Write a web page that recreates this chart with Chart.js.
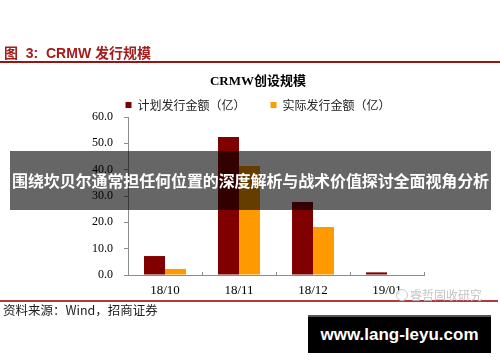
<!DOCTYPE html>
<html>
<head>
<meta charset="utf-8">
<script src="https://cdn.jsdelivr.net/npm/chart.js@4.4.1/dist/chart.umd.min.js"></script>
<style>
  body { margin: 0; background: #fff; }
  #wrap { position: relative; width: 500px; height: 362px; overflow: hidden; font-family: "Liberation Sans", "Noto Sans CJK SC", sans-serif; }
  #chartBox { position: absolute; left: 0; top: 0; width: 500px; height: 362px; }
  .abs { position: absolute; white-space: nowrap; }
  #head { left: 4px; top: 46px; font-size: 14px; line-height: 14px; font-weight: bold; color: #a51c1c; }
  #headLine { left: 0; top: 61px; width: 500px; height: 2px; background: #9a1414; }
  #srcLine { left: 0; top: 300px; width: 498px; height: 2px; background: #b03a3a; }
  #src { left: 3px; top: 303px; font-size: 12.5px; line-height: 14px; color: #222; font-family: "Noto Sans CJK SC", sans-serif; }
  #mark { left: 396px; top: 288px; font-size: 12px; line-height: 14px; color: #c4c4c4; font-family: "Noto Sans CJK SC", sans-serif; }
  #mark span { display: inline-block; width: 10px; height: 10px; border: 1px solid #c8c8c8; border-radius: 50%; background: rgba(255,255,255,0.85); vertical-align: -1px; margin-right: 2px; }
  #banner { left: 10px; top: 151px; width: 481px; height: 59px; background: rgba(0,0,0,0.6); color: #fff; font-size: 16px; line-height: 59px; font-weight: bold; text-align: center; font-family: "Noto Sans CJK SC", sans-serif; letter-spacing: -0.1px; }
  #site { left: 308px; top: 315px; width: 183px; height: 36px; background: #000; border-top: 2px solid #555; color: #fff; font-size: 17px; line-height: 36px; font-weight: bold; text-align: center; }
</style>
</head>
<body>
<div id="wrap">
  <div id="chartBox"><canvas id="crmwChart"></canvas></div>
  <div class="abs" id="head">图&nbsp; 3:&nbsp; CRMW 发行规模</div>
  <div class="abs" id="headLine"></div>
  <div class="abs" id="srcLine"></div>
  <div class="abs" id="src">资料来源：Wind，招商证券</div>
  <div class="abs" id="mark"><span></span>睿哲固收研究</div>
  <div class="abs" id="banner">围绕坎贝尔通常担任何位置的深度解析与战术价值探讨全面视角分析</div>
  <div class="abs" id="site">www.lang-leyu.com</div>
</div>
<script>
const months = ['18/10', '18/11', '18/12', '19/01'];
const plannedAmount = [7.2, 52.4, 27.7, 1.0];
const actualAmount = [2.3, 41.4, 18.2, 0];
const yTicks = [0, 10, 20, 30, 40, 50, 60];

const serif = '"Liberation Serif", "Noto Sans CJK SC", serif';

// move title and legend down to where the picture has them
const shiftHeader = {
    id: 'shiftHeader',
    afterLayout(chart) {
        if (chart.titleBlock) {
            chart.titleBlock.top += 19.8;
            chart.titleBlock.bottom += 19.8;
        }
        if (chart.legend) {
            chart.legend.top += 4;
            chart.legend.bottom += 4;
        }
    }
};

// small tick marks pointing up from the x axis, at category edges
const innerTicks = {
    id: 'innerTicks',
    afterDraw(chart) {
        const x = chart.scales.x;
        const ctx = chart.ctx;
        const step = (x.right - x.left) / months.length;
        ctx.save();
        ctx.strokeStyle = '#8c8c8c';
        ctx.lineWidth = 1;
        for (let i = 0; i <= months.length; i++) {
            const px = Math.round(x.left + step * i) + 0.5;
            ctx.beginPath();
            ctx.moveTo(px, x.top);
            ctx.lineTo(px, x.top - 3);
            ctx.stroke();
        }
        ctx.restore();
    }
};

const ctx = document.getElementById('crmwChart').getContext('2d');
const chart = new Chart(ctx, {
    type: 'bar',
    data: {
        labels: months,
        datasets: [
            {
                label: '计划发行金额（亿）',
                data: plannedAmount,
                backgroundColor: '#800000',
                borderWidth: 0
            },
            {
                label: '实际发行金额（亿）',
                data: actualAmount,
                backgroundColor: '#ff9900',
                borderWidth: 0
            }
        ]
    },
    options: {
        responsive: true,
        maintainAspectRatio: false,
        animation: false,
        layout: {
            padding: { top: 54.4, left: 92, right: 76, bottom: 63 }
        },
        datasets: {
            bar: { categoryPercentage: 0.567, barPercentage: 1 }
        },
        plugins: {
            title: {
                display: true,
                text: 'CRMW创设规模',
                color: '#000',
                font: { family: serif, size: 13, weight: 'bold' },
                padding: 0
            },
            legend: {
                display: true,
                labels: {
                    boxWidth: 6,
                    boxHeight: 6,
                    padding: 25,
                    color: '#222',
                    font: { family: '"Noto Sans CJK SC", sans-serif', size: 12 }
                }
            },
            tooltip: { enabled: false }
        },
        scales: {
            x: {
                grid: { display: true, drawOnChartArea: false, drawTicks: false, color: 'rgba(0,0,0,0)' },
                border: { display: true, color: '#8c8c8c', width: 1 },
                ticks: {
                    color: '#000',
                    padding: 8,
                    font: { family: serif, size: 13 }
                },
                afterFit(scale) { scale.height = 24; }
            },
            y: {
                min: 0,
                max: 60,
                grid: { drawOnChartArea: false, drawTicks: true, tickLength: 4, color: '#8c8c8c' },
                border: { display: true, color: '#8c8c8c', width: 1 },
                afterBuildTicks(scale) {
                    scale.ticks = yTicks.map(v => ({ value: v }));
                },
                ticks: {
                    color: '#000',
                    padding: 11,
                    font: { family: serif, size: 12 },
                    callback: function(value) {
                        return Number(value).toFixed(1);
                    }
                },
                afterFit(scale) { scale.width = 36; }
            }
        }
    },
    plugins: [shiftHeader, innerTicks]
});
</script>
</body>
</html>
